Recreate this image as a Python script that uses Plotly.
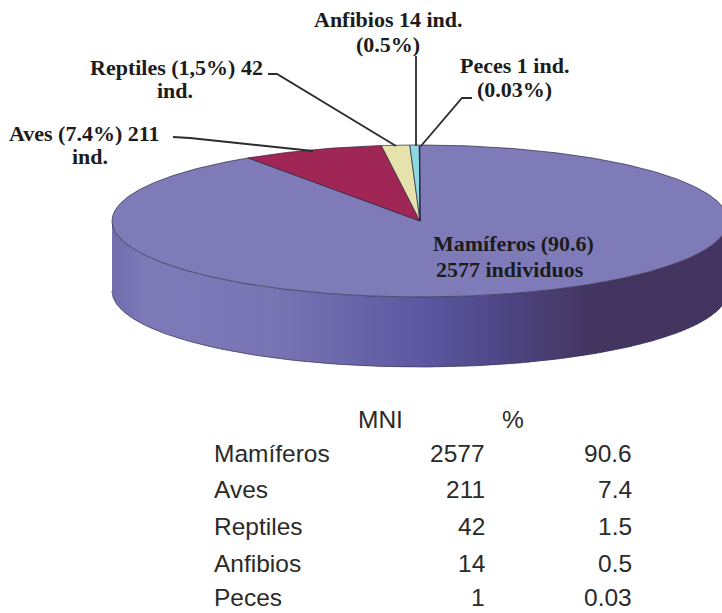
import numpy as np
import plotly.graph_objects as go

categories = ["Mamíferos", "Aves", "Reptiles", "Anfibios", "Peces"]
mni = [2577, 211, 42, 14, 1]
pct_labels = ["90.6", "7.4", "1.5", "0.5", "0.03"]
colors = ["#7f7bb8", "#a02755", "#e6e2ac", "#8fd8e0", "#5a57a0"]

CX, CY, RX, RY, DEPTH = 420, 221, 308, 76, 70
WIDTH, HEIGHT = 722, 613

fig = go.Figure()


def hex_rgb(c):
    return np.array([int(c[i:i + 2], 16) for i in (1, 3, 5)], float)


stops = [(112, "#716eae"), (150, "#7f7bb9"), (270, "#7a76b5"), (420, "#5d59a2"),
         (500, "#4f4786"), (596, "#43355f"), (722, "#43355f")]


def side_color(x):
    sx = [s[0] for s in stops]
    rgb = [np.interp(x, sx, [hex_rgb(s[1])[i] for s in stops]) for i in range(3)]
    return "rgb(%d,%d,%d)" % tuple(rgb)


def front_y(x):
    return CY + RY * np.sqrt(np.clip(1 - ((x - CX) / RX) ** 2, 0, 1))


# side wall, split into narrow strips for the horizontal shading
edges = np.linspace(CX - RX, CX + RX, 141)
for x0, x1 in zip(edges[:-1], edges[1:]):
    sub = np.linspace(x0, x1 + 0.8, 6)
    top = front_y(sub)
    fig.add_trace(go.Scatter(
        x=list(sub) + list(sub[::-1]),
        y=list(top) + list((top + DEPTH)[::-1]),
        mode="lines", fill="toself", line=dict(width=0),
        fillcolor=side_color((x0 + x1) / 2), hoverinfo="skip", showlegend=False))

# top-face wedges from the MNI values, clockwise from 12 o'clock
total = sum(mni)
start = 0.0
for cat, v, col in zip(categories, mni, colors):
    sweep = 2 * np.pi * v / total
    th = np.linspace(start, start + sweep, max(3, int(v / total * 720)))
    xs = CX + RX * np.sin(th)
    ys = CY - RY * np.cos(th)
    fig.add_trace(go.Scatter(
        x=[CX] + list(xs) + [CX], y=[CY] + list(ys) + [CY],
        mode="lines", fill="toself", fillcolor=col,
        line=dict(color="#2a2440", width=0.7),
        name=cat, hoverinfo="name", showlegend=False))
    start += sweep

# lower silhouette of the wall
th = np.linspace(np.pi / 2, 3 * np.pi / 2, 300)
fig.add_trace(go.Scatter(
    x=CX + RX * np.sin(th), y=CY + DEPTH - RY * np.cos(th),
    mode="lines", line=dict(color="#3a3360", width=0.7),
    hoverinfo="skip", showlegend=False))

# leader lines
leaders = [
    "M 173 137 L 190 138 L 313 151",
    "M 268 74 L 277 74 L 396 146",
    "M 416 56 L 416 146",
    "M 472 98 L 462 98 L 421 146",
]
shapes = [dict(type="path", path=p, xref="x", yref="y",
               line=dict(color="#2b2b30", width=1.8)) for p in leaders]

annotations = []


def text(x, y, s, size, family, anchor="center", color="#1c1c1c", weight="normal"):
    annotations.append(dict(x=x, y=y, xref="x", yref="y", text=s, showarrow=False,
                            xanchor=anchor, yanchor="middle", align="center",
                            font=dict(family=family, size=size, color=color, weight=weight)))


SERIF = "Liberation Serif"
SANS = "Liberation Sans"
for x, y, s in [(84, 133, "Aves (7.4%) 211"), (90, 156, "ind."),
                (176, 67, "Reptiles (1,5%) 42"), (175, 90, "ind."),
                (388, 19, "Anfibios 14 ind."), (388, 44, "(0.5%)"),
                (514, 65, "Peces 1 ind."), (514, 89, "(0.03%)"),
                (513, 243, "Mamíferos (90.6)"), (510, 269, "2577 individuos")]:
    text(x, y, s, 22, SERIF, weight="bold")

text(380, 419, "MNI", 24.5, SANS, color="#2a2a2a")
text(513, 419, "%", 24.5, SANS, color="#2a2a2a")
row_y = [453, 489, 526, 563, 597]
for cat, v, p, y in zip(categories, mni, pct_labels, row_y):
    text(212, y, cat, 24.5, SANS, "left", "#2a2a2a")
    text(487, y, str(v), 24.5, SANS, "right", "#2a2a2a")
    text(634, y, p, 24.5, SANS, "right", "#2a2a2a")

fig.update_layout(
    width=WIDTH, height=HEIGHT, margin=dict(l=0, r=0, t=0, b=0),
    paper_bgcolor="white", plot_bgcolor="white", showlegend=False,
    xaxis=dict(range=[0, WIDTH], visible=False, fixedrange=True),
    yaxis=dict(range=[HEIGHT, 0], visible=False, fixedrange=True),
    shapes=shapes, annotations=annotations,
)
fig.write_html("out.html", config=dict(displayModeBar=False),
               post_script="document.body.style.margin='0';document.documentElement.style.overflow='hidden';")
